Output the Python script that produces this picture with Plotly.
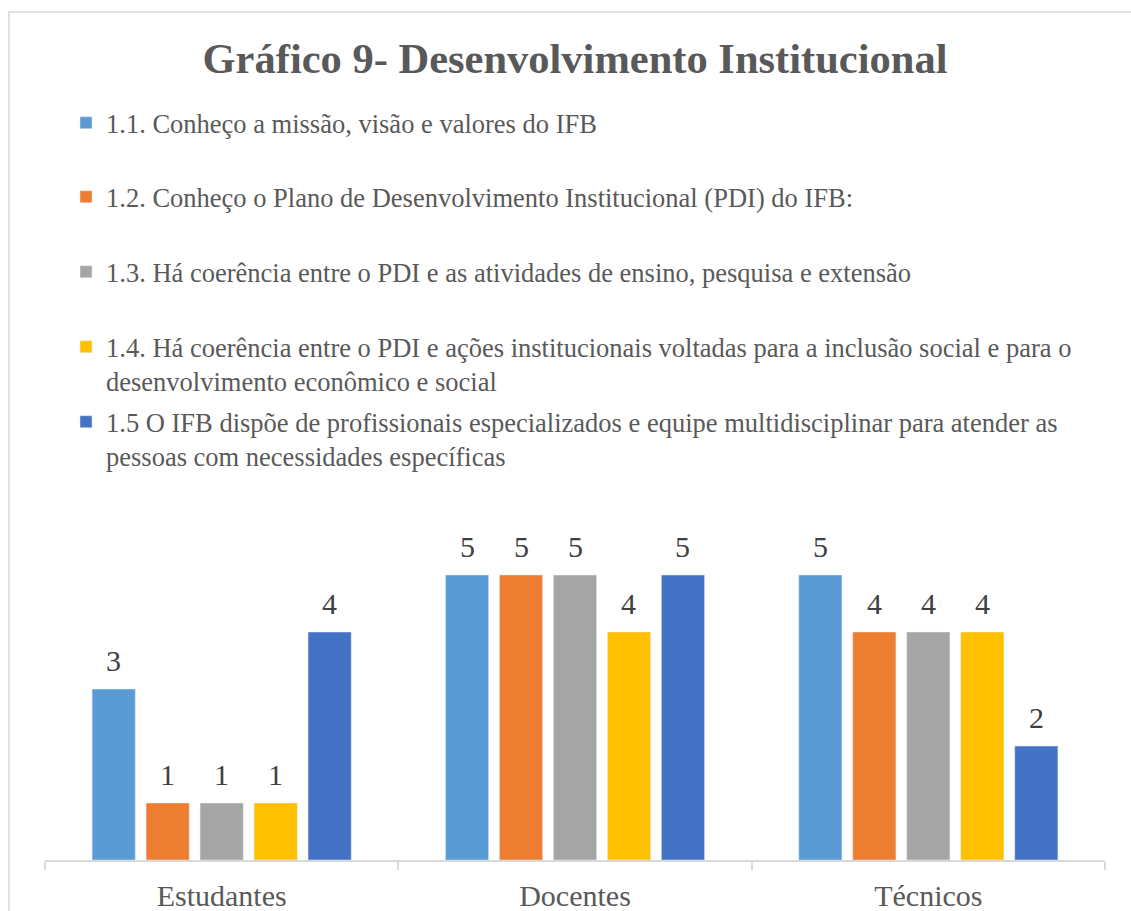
import plotly.graph_objects as go

categories = ["Estudantes", "Docentes", "Técnicos"]
series_names = [
    "1.1. Conheço a missão, visão e valores do IFB",
    "1.2. Conheço o Plano de Desenvolvimento Institucional (PDI) do IFB:",
    "1.3. Há coerência entre o PDI e as atividades de ensino, pesquisa e extensão",
    "1.4. Há coerência entre o PDI e ações institucionais voltadas para a inclusão social e para o<br>desenvolvimento econômico e social",
    "1.5 O IFB dispõe de profissionais especializados e equipe multidisciplinar para atender as<br>pessoas com necessidades específicas",
]
s11 = [3, 5, 5]
s12 = [1, 5, 4]
s13 = [1, 5, 4]
s14 = [1, 4, 4]
s15 = [4, 5, 2]
series_values = [s11, s12, s13, s14, s15]
colors = ["#5B9BD5", "#ED7D31", "#A5A5A5", "#FFC000", "#4472C4"]

W, H = 1131, 911
FONT = "Liberation Serif"
legend_tops = [99, 173, 248, 323, 398]
BARGAP = 0.236
n_series = len(series_values)

fig = go.Figure()
legend_ids = ["legend", "legend2", "legend3", "legend4", "legend5"]
for name, vals, col, lid in zip(series_names, series_values, colors, legend_ids):
    fig.add_trace(go.Bar(
        x=categories, y=vals, name=name, marker_color=col,
        legend=lid,
    ))

# data labels, placed above each bar from the same data
annotations = []
slot = (1 - BARGAP) / n_series
for si, vals in enumerate(series_values):
    for ci, v in enumerate(vals):
        annotations.append(dict(
            x=ci + (si - (n_series - 1) / 2) * slot, y=v, xref="x", yref="y",
            text=str(v), showarrow=False, xanchor="center", yanchor="bottom",
            yshift=10, font=dict(family=FONT, size=30, color="#404040"),
        ))

ml, mr, mt, mb = 45, 26, 518, 51
layout_legends = {}
for lid, top in zip(legend_ids, legend_tops):
    layout_legends[lid] = dict(
        x=66 / W, y=1 - top / H, xref="container", yref="container",
        xanchor="left", yanchor="top", valign="top",
        font=dict(family=FONT, size=26.5, color="#595959"),
        bgcolor="rgba(0,0,0,0)", borderwidth=0,
    )

fig.update_layout(
    width=W, height=H,
    margin=dict(l=ml, r=mr, t=mt, b=mb, autoexpand=False),
    paper_bgcolor="white", plot_bgcolor="white",
    title=dict(text="<b>Gráfico 9- Desenvolvimento Institucional</b>",
               x=0.5, xref="paper", xanchor="center",
               y=1 - 58 / H, yref="container", yanchor="middle",
               font=dict(family=FONT, size=42.5, color="#595959")),
    barmode="group", bargap=BARGAP, bargroupgap=0.2,
    showlegend=True,
    **layout_legends,
    annotations=annotations,
    xaxis=dict(showline=True, linecolor="#D9D9D9", linewidth=1.5,
               ticks="outside", tickson="boundaries", ticklen=8,
               tickcolor="#D9D9D9", tickwidth=1.5, showgrid=False,
               tickfont=dict(family=FONT, size=30, color="#595959"),
               ticklabelstandoff=8, automargin=False),
    yaxis=dict(range=[0, 6], visible=False, showgrid=False, automargin=False),
    shapes=[dict(type="rect", xref="paper", yref="paper",
                 x0=(9 - ml) / (W - ml - mr), x1=(W + 20 - ml) / (W - ml - mr),
                 y0=-(H + 20 - (H - mb)) / (H - mt - mb), y1=1 + (mt - 12) / (H - mt - mb),
                 line=dict(color="#D9D9D9", width=1.5), fillcolor="rgba(0,0,0,0)",
                 layer="below")],
)

fig.write_html("out.html", config={"displayModeBar": False},
               post_script="document.body.style.margin='0px';")
